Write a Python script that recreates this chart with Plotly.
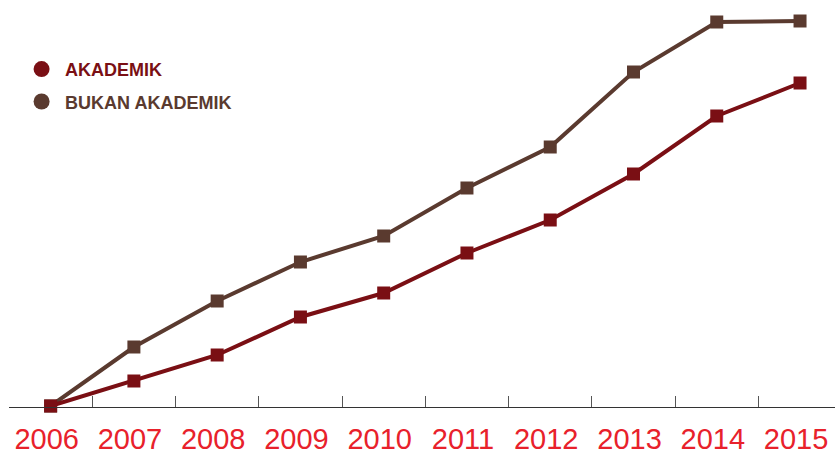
import plotly.graph_objects as go

years = ["2006", "2007", "2008", "2009", "2010", "2011", "2012", "2013", "2014", "2015"]
akademik = [0, 25, 51, 89, 113, 153, 186, 232, 290, 323]
bukan_akademik = [0, 59, 105, 144, 170, 218, 259, 334, 384, 385]

C_AK = "#7a0f14"
C_BUK = "#5a3a2f"

fig = go.Figure()
fig.add_trace(go.Scatter(x=years, y=bukan_akademik, mode="lines+markers",
                         line=dict(color=C_BUK, width=4),
                         marker=dict(symbol="square", size=13, color=C_BUK),
                         showlegend=False, cliponaxis=False))
fig.add_trace(go.Scatter(x=years, y=akademik, mode="lines+markers",
                         line=dict(color=C_AK, width=4),
                         marker=dict(symbol="square", size=13, color=C_AK),
                         showlegend=False, cliponaxis=False))
# legend entries
fig.add_trace(go.Scatter(x=[None], y=[None], mode="markers", legendgroup="a",
                         marker=dict(symbol="circle", size=18, color=C_AK),
                         name=f"<span style='color:{C_AK}'><b>AKADEMIK</b></span>"))
fig.add_trace(go.Scatter(x=[None], y=[None], mode="markers", legendgroup="b",
                         marker=dict(symbol="circle", size=18, color=C_BUK),
                         name=f"<span style='color:{C_BUK}'><b>BUKAN AKADEMIK</b></span>"))

fig.update_layout(
    width=835, height=452,
    margin=dict(l=9, r=0, t=0, b=45),
    plot_bgcolor="white", paper_bgcolor="white",
    legend=dict(x=0.011, y=0.875, xanchor="left", yanchor="top",
                font=dict(family="Liberation Sans", size=18),
                bgcolor="rgba(0,0,0,0)", itemsizing="trace", itemwidth=37,
                traceorder="grouped", tracegroupgap=6),
    xaxis=dict(type="category", range=[-0.5, 9.42], tickson="boundaries",
               ticks="inside", ticklen=11, tickcolor="#555", tickwidth=1,
               showline=True, linecolor="#333", linewidth=1,
               showgrid=False, zeroline=False, automargin=False,
               tickfont=dict(family="Liberation Sans", size=29, color="#e8212b"),
               ticklabelshift=-4, ticklabelstandoff=6),
    yaxis=dict(range=[-1, 406], visible=False, showgrid=False, zeroline=False,
               automargin=False),
)

fig.write_html("out.html", config={"displayModeBar": False},
               post_script="document.body.style.margin='0';document.body.style.overflow='hidden';")
